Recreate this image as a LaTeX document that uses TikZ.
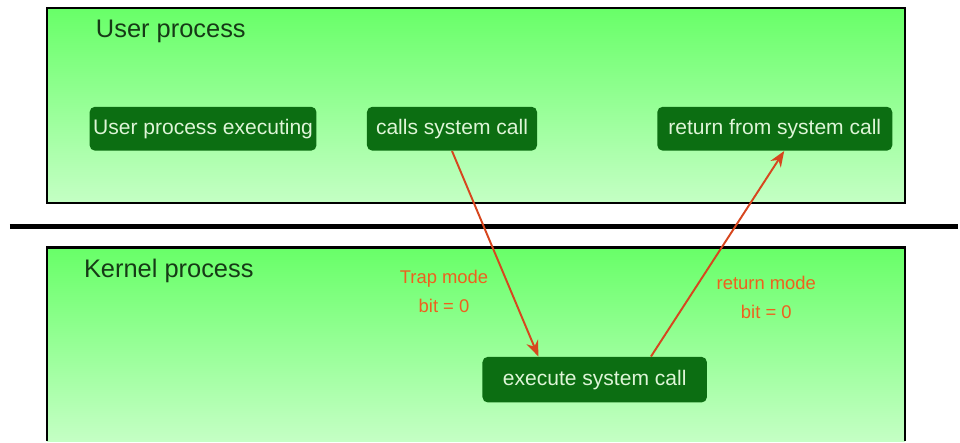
\documentclass[tikz,border=0pt]{standalone}
\usepackage{fontspec}
\setmainfont{Liberation Sans}
\usetikzlibrary{calc,arrows.meta}

\definecolor{boxgreen}{RGB}{12,110,18}
\definecolor{boxtext}{RGB}{222,245,215}
\definecolor{toplight}{RGB}{104,255,104}
\definecolor{bottomlight}{RGB}{196,255,196}
\definecolor{titlegreen}{RGB}{22,58,22}
\definecolor{modered}{RGB}{215,70,30}
\definecolor{labelorange}{RGB}{238,96,30}

\tikzset{
  callbox/.style={fill=boxgreen, rounded corners=3pt, text=boxtext,
    font=\fontsize{12}{14}\selectfont, minimum height=25pt, inner sep=2pt},
  spacetitle/.style={anchor=west, text=titlegreen, font=\fontsize{14.5}{17}\selectfont},
  modelabel/.style={text=labelorange, align=center, font=\fontsize{10.5}{17}\selectfont},
  modearrow/.style={draw=modered, line width=1.1pt, -{Stealth[length=9pt,width=7pt]}}
}

\begin{document}
\begin{tikzpicture}[x=0.02cm,y=-0.02cm]
      \fill[white] (0,0) rectangle (960,442);

      % user space
      \shade[top color=toplight,bottom color=bottomlight] (47,8) rectangle (907,203);
      \draw[line width=1.2pt] (47,8) rectangle (907,203);
      \node[spacetitle] (usertitle) at (90,31) {User process};

      % kernel space
      \shade[top color=toplight,bottom color=bottomlight] (47,248) rectangle (907,442);
      \draw[line width=1.2pt] (47,442) -- (47,248) -- (907,248) -- (907,442);
      \node[spacetitle] (kerneltitle) at (78,272) {Kernel process};

      % divider
      \draw[line width=2.4pt] (10,227) -- (960,227);

      % boxes
      \node[callbox, minimum width=128pt] (userexec) at (203.5,129) {User process executing};
      \node[callbox, minimum width=97pt] (calls) at (453,129) {calls system call};
      \node[callbox, minimum width=134pt] (ret) at (776.5,129) {return from system call};
      \node[callbox, minimum width=128pt, minimum height=26pt] (exec) at (596,380.5) {execute system call};

      % mode switches
      \draw[modearrow] (calls.south) -- ($(exec.north west)!0.25!(exec.north east)$);
      \draw[modearrow] ($(exec.north west)!0.75!(exec.north east)$) -- ($(ret.south west)!0.54!(ret.south east)$);
      \node[modelabel] (trap) at (445,292) {Trap mode\\bit = 0};
      \node[modelabel] (retmode) at (768,298) {return mode\\bit = 0};
\end{tikzpicture}
\end{document}
